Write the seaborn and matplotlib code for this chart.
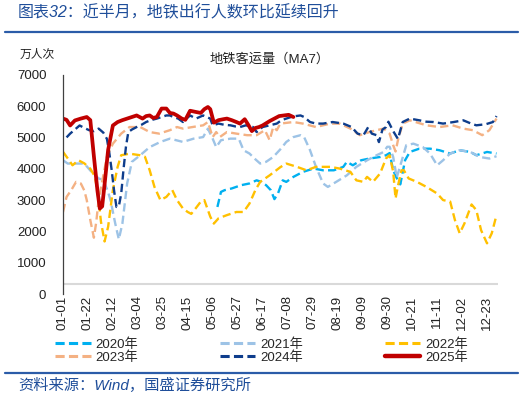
import pandas as pd
import matplotlib
matplotlib.use("Agg")
import matplotlib.pyplot as plt
from matplotlib.lines import Line2D
import seaborn as sns

# day index from 01-01 (2024 calendar, step 21 days for the labels)
tick_days = [0, 21, 42, 63, 84, 105, 126, 147, 168, 189, 210, 231, 252, 273, 294, 315, 336, 357]
tick_labels = ["01-01", "01-22", "02-12", "03-04", "03-25", "04-15", "05-06", "05-27", "06-17",
               "07-08", "07-29", "08-19", "09-09", "09-30", "10-21", "11-11", "12-02", "12-23"]

days_2020 = [130, 133, 136, 142, 150, 157, 163, 167, 171, 175, 178, 181, 185, 188, 194, 202, 211, 219,
             228, 236, 239, 244, 251, 258, 267, 272, 275, 278, 281, 284, 288, 292, 300, 309, 317, 326,
             334, 343, 348, 357, 365]
vals_2020 = [2780, 3260, 3315, 3370, 3475, 3530, 3630, 3580, 3475, 3315, 3030, 3210, 3630, 3580, 3740,
             3900, 4005, 3950, 3950, 4060, 4220, 4110, 4270, 4325, 4375, 4430, 4500, 3950, 3700, 3500,
             4270, 4535, 4640, 4640, 4590, 4485, 4590, 4535, 4430, 4535, 4485]

days_2021 = [0, 4, 12, 18, 24, 30, 34, 38, 40, 44, 47, 50, 54, 58, 65, 73, 82, 90, 101, 110, 118, 122,
             126, 129, 133, 141, 148, 152, 157, 162, 166, 171, 177, 183, 188, 194, 200, 203, 208, 213,
             219, 223, 230, 239, 247, 256, 264, 270, 273, 275, 278, 281, 284, 289, 295, 303, 309, 315,
             320, 326, 334, 343, 351, 359, 365]
vals_2021 = [4270, 4165, 4165, 4165, 3900, 3690, 3640, 3250, 3000, 2250, 1750, 2250, 3530, 4220, 4430,
             4690, 4855, 4960, 4855, 4960, 5010, 5280, 4960, 4690, 4910, 4960, 4960, 4590, 4485, 4300,
             4165, 4220, 4375, 4620, 4855, 5010, 5070, 5010, 4590, 4060, 3530, 3420, 3580, 3790, 4060,
             4270, 4430, 4535, 4700, 4700, 4375, 3720, 4100, 4750, 4800, 4690, 4485, 4110, 4270, 4485,
             4590, 4535, 4375, 4325, 4400]

days_2022 = [0, 4, 8, 13, 18, 23, 27, 30, 32, 35, 38, 42, 46, 49, 56, 65, 69, 73, 77, 82, 87, 92, 96,
             101, 105, 108, 112, 116, 119, 124, 127, 131, 138, 146, 152, 157, 162, 166, 174, 183, 188,
             197, 205, 213, 225, 233, 242, 247, 253, 256, 261, 267, 272, 275, 278, 280, 282, 285, 287,
             291, 298, 306, 315, 320, 326, 330, 334, 338, 344, 348, 352, 357, 361, 365]
vals_2022 = [4540, 4330, 4110, 4270, 4170, 4000, 3740, 3000, 2300, 1680, 2150, 3320, 4060, 4430, 4480,
             4430, 4380, 3950, 3420, 3000, 3100, 3320, 3000, 2730, 2620, 2560, 2750, 2950, 3000, 2470,
             2250, 2420, 2520, 2620, 2620, 2890, 3320, 3580, 3790, 4050, 4165, 4060, 3950, 4060, 4060,
             4005, 3900, 3630, 3580, 3740, 3580, 3850, 4330, 4430, 3900, 3050, 3450, 3950, 3950, 3690,
             3580, 3420, 3210, 3000, 2950, 2360, 1940, 2255, 2860, 2680, 2040, 1620, 1940, 2520]

days_2023 = [0, 3, 7, 11, 15, 18, 20, 23, 26, 28, 30, 33, 37, 42, 49, 56, 65, 73, 81, 90, 96, 101, 109,
             118, 122, 126, 129, 132, 138, 146, 155, 163, 170, 174, 177, 180, 183, 194, 202, 213, 225,
             233, 242, 250, 258, 264, 270, 275, 278, 280, 282, 286, 292, 306, 317, 328, 337, 345, 353,
             359, 365]
vals_2023 = [2620, 3100, 3320, 3580, 3530, 3300, 3000, 2360, 1800, 2300, 3000, 3600, 4380, 4800, 5120,
             5330, 5330, 5170, 5120, 5230, 5330, 5280, 5330, 5385, 5490, 5010, 5170, 5010, 5170, 5120,
             5070, 5070, 5230, 4910, 5330, 5230, 5440, 5490, 5440, 5330, 5440, 5440, 5280, 5070, 5170,
             5230, 5280, 5120, 4750, 4550, 4910, 5440, 5545, 5385, 5330, 5385, 5280, 5230, 5070, 5230,
             5600]

days_2024 = [3, 6, 10, 14, 18, 22, 26, 30, 34, 37, 39, 41, 43, 45, 47, 49, 51, 53, 55, 58, 62, 66, 70,
             74, 79, 83, 87, 90, 93, 97, 101, 104, 107, 112, 118, 124, 126, 131, 136, 141, 145, 149,
             154, 160, 163, 168, 174, 180, 184, 188, 192, 196, 200, 203, 208, 213, 219, 227, 236, 243,
             248, 253, 257, 260, 264, 266, 269, 272, 274, 278, 282, 286, 292, 300, 306, 312, 320, 329,
             337, 343, 348, 356, 362, 365]
vals_2024 = [5000, 5120, 5250, 5380, 5300, 5230, 5200, 5280, 5150, 4950, 4500, 3950, 3300, 2780, 2800,
             3200, 4000, 4700, 5170, 5250, 5330, 5400, 5490, 5550, 5600, 5650, 5700, 5700, 5650, 5600,
             5490, 5600, 5700, 5600, 5700, 5600, 5385, 5440, 5400, 5385, 5350, 5330, 5385, 5330, 5170,
             5330, 5385, 5440, 5550, 5600, 5650, 5680, 5700, 5650, 5490, 5440, 5440, 5490, 5440, 5330,
             5120, 5070, 5330, 5120, 5070, 4850, 5250, 5330, 5500, 5200, 4950, 5490, 5600, 5545, 5500,
             5490, 5440, 5490, 5545, 5450, 5385, 5420, 5490, 5680]

days_2025 = [0, 3, 6, 10, 15, 20, 23, 26, 29, 31, 33, 35, 38, 42, 46, 50, 54, 58, 62, 67, 70, 73, 76,
             79, 83, 87, 90, 93, 96, 100, 103, 107, 112, 116, 119, 122, 124, 127, 131, 135, 138, 142,
             146, 149, 153, 156, 159, 162, 165, 168, 171, 174, 178, 182, 186, 190, 194]
vals_2025 = [5600, 5560, 5380, 5540, 5600, 5650, 5550, 4400, 3300, 2730, 2800, 3500, 4600, 5380, 5490,
             5550, 5600, 5650, 5700, 5600, 5680, 5700, 5620, 5650, 5920, 5920, 5780, 5760, 5700, 5600,
             5560, 5850, 5810, 5780, 5900, 5970, 5900, 5470, 5550, 5580, 5600, 5550, 5490, 5440, 5580,
             5400, 5200, 5300, 5330, 5380, 5450, 5520, 5600, 5680, 5700, 5720, 5650]

years = ["2020年", "2021年", "2022年", "2023年", "2024年", "2025年"]
series = [(days_2020, vals_2020), (days_2021, vals_2021), (days_2022, vals_2022),
          (days_2023, vals_2023), (days_2024, vals_2024), (days_2025, vals_2025)]

palette = {"2020年": "#00B0F0", "2021年": "#9DC3E6", "2022年": "#FFC000",
           "2023年": "#F4B183", "2024年": "#0E3D8C", "2025年": "#C00000"}
dash_map = {y: (3.5, 1.8) for y in years}
dash_map["2025年"] = ""
size_map = {y: 1.7 for y in years}
size_map["2025年"] = 2.7

df = pd.concat([pd.DataFrame({"day": d, "value": v, "year": y}) for y, (d, v) in zip(years, series)],
               ignore_index=True)

sns.set_style("white")
plt.rcParams["font.family"] = ["Liberation Sans", "Noto Sans CJK SC"]

fig = plt.figure(figsize=(5.25, 3.98), dpi=100)
ax = fig.add_axes([63 / 525, 1 - 294.1 / 398, (497.7 - 63) / 525, (294.1 - 74.7) / 398])

sns.lineplot(data=df, x="day", y="value", hue="year", style="year", size="year",
             palette=palette, dashes=dash_map, sizes=size_map, hue_order=years,
             estimator=None, sort=False, legend=False, ax=ax)

# grey baseline as in the source chart
ax.axhline(330, color="#d9d9d9", lw=1.5, zorder=0)

ax.set_xlim(0, 366)
ax.set_ylim(0, 7000)
ax.set_yticks(range(0, 7001, 1000))
ax.set_xticks(tick_days)
ax.set_xticklabels(tick_labels, rotation=90, fontsize=9.5, color="#222222")
ax.tick_params(axis="x", length=0, pad=1)
ax.tick_params(axis="y", direction="in", length=3.5, width=0.8, color="#404040",
               pad=12, labelsize=9.5, labelcolor="#222222")
ax.set_xlabel("")
ax.set_ylabel("")
for s in ["top", "right", "bottom"]:
    ax.spines[s].set_visible(False)
ax.spines["left"].set_color("#404040")
ax.spines["left"].set_linewidth(0.9)

# legend fills column-wise, so order the entries to read row by row
leg_order = ["2020年", "2023年", "2021年", "2024年", "2022年", "2025年"]
handles = [Line2D([], [], color=palette[y], lw=size_map[y] + 0.5,
                  linestyle="-" if y == "2025年" else (0, (3, 1.4))) for y in leg_order]
fig.legend(handles, leg_order, loc="upper left", bbox_to_anchor=(55 / 525, 1 - 338 / 398),
           ncol=3, frameon=False, fontsize=9.5, handlelength=2.7, handletextpad=0.35,
           columnspacing=6.2, labelspacing=0.05, borderpad=0, borderaxespad=0)

blue = "#1F4E9A"
fig.text(18 / 525, 1 - 13 / 398, "图表32：近半月，地铁出行人数环比延续回升", color=blue,
         fontsize=11.5, va="center", ha="left", style="italic")
fig.add_artist(Line2D([5 / 525, 518 / 525], [1 - 32 / 398] * 2, transform=fig.transFigure,
                      color="#2B5CA8", lw=1.6))
fig.text(20 / 525, 1 - 55 / 398, "万人次", fontsize=8.5, va="center", ha="left", color="#222222")
fig.text(270 / 525, 1 - 59 / 398, "地铁客运量（MA7）", fontsize=9.5, va="center", ha="center",
         color="#222222")
fig.add_artist(Line2D([5 / 525, 518 / 525], [1 - 373 / 398] * 2, transform=fig.transFigure,
                      color="#2B5CA8", lw=1.6))
fig.text(18 / 525, 1 - 385 / 398, "资料来源：Wind，国盛证券研究所", color=blue,
         fontsize=11, va="center", ha="left", style="italic")

fig.savefig("out.png", dpi=100)
